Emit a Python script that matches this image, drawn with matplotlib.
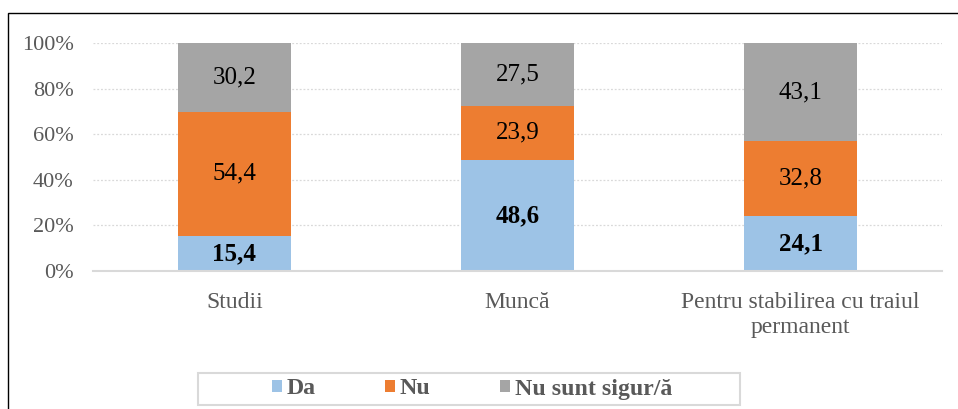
import numpy as np
import matplotlib
matplotlib.use("Agg")
import matplotlib.pyplot as plt
from matplotlib.patches import Rectangle

categories = ["Studii", "Muncă", "Pentru stabilirea cu traiul\npermanent"]
series = ["Da", "Nu", "Nu sunt sigur/ă"]
da = [15.4, 48.6, 24.1]
nu = [54.4, 23.9, 32.8]
nesigur = [30.2, 27.5, 43.1]
yticks = [0, 20, 40, 60, 80, 100]
colors = ["#9DC3E6", "#ED7D31", "#A5A5A5"]

plt.rcParams["font.family"] = ["Liberation Serif", "DejaVu Serif"]
grey = "#595959"
W, H = 958, 409

fig = plt.figure(figsize=(W / 100, H / 100), dpi=100)
ax = fig.add_axes([93 / W, 1 - 271 / H, 849 / W, 228 / H])

x = np.arange(len(categories))
bottom = np.zeros(len(categories))
for vals, lab, c in zip([da, nu, nesigur], series, colors):
    vals = np.array(vals)
    ax.bar(x, vals, 0.4, bottom=bottom, color=c, label=lab, zorder=2)
    for xi, b, v in zip(x, bottom, vals):
        ax.text(xi, b + v / 2, f"{v:.1f}".replace(".", ","), ha="center",
                va="center", fontsize=18, color="black",
                fontweight="bold" if lab == "Da" else "normal")
    bottom += vals

ax.set_xlim(-0.5, 2.5)
ax.set_ylim(0, 100)
ax.set_yticks(yticks)
ax.set_yticklabels([f"{t}%" for t in yticks], fontsize=16, color=grey)
ax.set_xticks(x)
ax.set_xticklabels(categories, fontsize=17, color=grey, linespacing=1.25)
ax.tick_params(length=0)
ax.tick_params(axis="x", pad=15)
ax.tick_params(axis="y", pad=14)
ax.grid(axis="y", color="#D9D9D9", ls=(0, (1.5, 1.5)), lw=0.9, zorder=0)
for s in ["top", "right", "left"]:
    ax.spines[s].set_visible(False)
ax.spines["bottom"].set_color("#D9D9D9")
ax.spines["bottom"].set_linewidth(1.5)

leg = fig.legend(loc="center", bbox_to_anchor=(472 / W, 1 - 389 / H), ncol=3,
                 frameon=False, prop={"size": 17.2, "weight": "bold"},
                 handlelength=0.42, handleheight=0.42, handletextpad=0.2,
                 columnspacing=2.9, borderpad=0, borderaxespad=0)
for t in leg.get_texts():
    t.set_color(grey)

# legend box and outer frame
fig.add_artist(Rectangle((198 / W, 1 - 405 / H), 542 / W, 32 / H,
                         transform=fig.transFigure, fill=False,
                         edgecolor="#D9D9D9", lw=1.5))
fig.add_artist(Rectangle((8 / W, -0.5), 2, 1 - 13 / H + 0.5,
                         transform=fig.transFigure, fill=False,
                         edgecolor="black", lw=1.0))

fig.savefig("out.png", dpi=100)
